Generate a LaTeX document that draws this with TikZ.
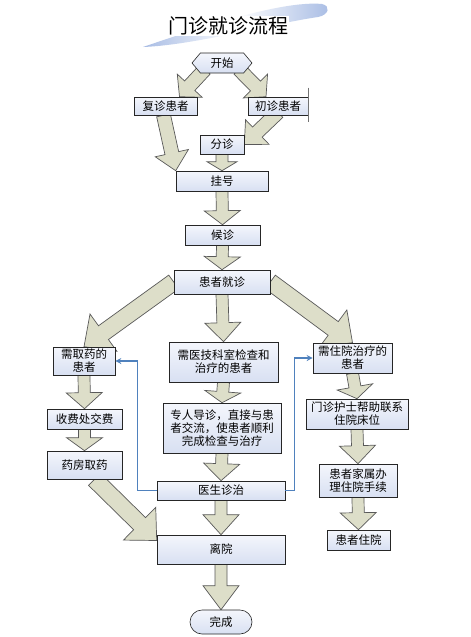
\documentclass[tikz,border=0pt]{standalone}
\usepackage{fontspec}
\newfontfamily\cjk{Noto Sans CJK SC}
\usetikzlibrary{calc,shapes.symbols,backgrounds,arrows.meta}
\definecolor{boxtop}{RGB}{244,246,252}
\definecolor{boxbot}{RGB}{216,224,242}
\definecolor{arrowfill}{RGB}{221,222,201}
\definecolor{linkblue}{RGB}{79,129,189}
\definecolor{swoosh}{RGB}{168,188,228}
\tikzstyle{box}=[draw=black!85, line width=0.6pt, top color=boxtop, bottom color=boxbot, font=\cjk\fontsize{11.5}{13}\selectfont, inner sep=0pt, align=center]
\tikzstyle{fatarrow}=[draw=black!65, line width=0.7pt, fill=arrowfill, line join=miter]
\tikzstyle{link}=[draw=linkblue, line width=1.4pt, -{Stealth[length=6pt,width=6pt]}]

% sizes of the fat arrows
\def\shaftw{6pt}\def\headw{18pt}\def\headlen{16pt}
\tikzset{
  arrow shaft/.code={\def\shaftw{#1}},
  arrow head/.code={\def\headw{#1}},
  arrow tiplen/.code={\def\headlen{#1}},
  wide arrow/.code={\def\shaftw{8.5pt}\def\headw{23pt}\def\headlen{24pt}}
}

\newcommand\bigarrow[3][]{%
  \begin{pgfonlayer}{background}
  \begin{scope}[#1]
    \coordinate (ba) at (#2);
    \coordinate (bb) at (#3);
    \coordinate (bh) at ($(bb)!\headlen!(ba)$);
    \filldraw[fatarrow] ($(ba)!\shaftw!90:(bb)$) -- ($(bh)!\shaftw!90:(bb)$)
      -- ($(bh)!\headw!90:(bb)$) -- (bb) -- ($(bh)!\headw!-90:(bb)$)
      -- ($(bh)!\shaftw!-90:(bb)$) -- ($(ba)!\shaftw!-90:(bb)$) -- cycle;
  \end{scope}
  \end{pgfonlayer}}

\begin{document}
\begin{tikzpicture}[x=1pt,y=-1pt]
\begin{pgfonlayer}{background}
\fill[white] (0,0) rectangle (471,637);
\end{pgfonlayer}
\useasboundingbox (0,0) rectangle (471,637);

% title
\shade[left color=swoosh, right color=swoosh, middle color=white]
  (143,47) .. controls (190,31) and (280,0) .. (322,4)
  .. controls (331,6) and (329,15) .. (318,17)
  .. controls (270,24) and (195,45) .. (143,47) -- cycle;
\node[fill=white, inner sep=1pt, font=\cjk\fontsize{20}{24}\selectfont] (title) at (228,26) {门诊就诊流程};

% top part
\node[box, signal, signal to=west and east, signal pointer angle=100, minimum width=60pt, minimum height=20pt] (ks) at (222,63) {开始};
\node[box, minimum width=63pt, minimum height=18pt] (fz) at (165.5,106) {复诊患者};
\node[box, minimum width=60pt, minimum height=18pt] (cz) at (278,106) {初诊患者};
\draw[line width=1.2pt, black!55] ([yshift=9pt]cz.north east) -- ([yshift=-7pt]cz.south east);
\node[box, minimum width=44pt, minimum height=19pt] (fen) at (222,144.5) {分诊};
\node[box, minimum width=92pt, minimum height=20pt] (gh) at (222,181) {挂号};
\node[box, minimum width=75pt, minimum height=20pt] (hz) at (222.5,235) {候诊};
\node[box, minimum width=96pt, minimum height=24pt] (jz) at (222,282) {患者就诊};

% three branches
\node[box, minimum width=62pt, minimum height=28pt] (qy) at (84,361) {需取药的\\患者};
\node[box, minimum width=75pt, minimum height=20pt] (sf) at (84.5,419) {收费处交费};
\node[box, minimum width=75pt, minimum height=28pt] (yf) at (84.5,465) {药房取药};

\node[box, minimum width=109pt, minimum height=40pt] (yj) at (223.5,362) {需医技科室检查和\\治疗的患者};
\node[box, minimum width=118pt, minimum height=50pt] (zr) at (222,428) {专人导诊，直接与患\\者交流，使患者顺利\\完成检查与治疗};
\node[box, minimum width=128pt, minimum height=19pt] (ys) at (221,490.5) {医生诊治};

\node[box, minimum width=79pt, minimum height=30pt] (zy) at (352.5,358) {需住院治疗的\\患者};
\node[box, minimum width=102pt, minimum height=30pt] (hs) at (357,414) {门诊护士帮助联系\\住院床位};
\node[box, minimum width=78pt, minimum height=33pt] (js) at (358,480.5) {患者家属办\\理住院手续};
\node[box, minimum width=63pt, minimum height=20pt] (zyy) at (358.5,540) {患者住院};

% end
\node[box, minimum width=128pt, minimum height=29pt] (ly) at (221,549.5) {离院};
\node[box, rounded corners=12pt, minimum width=62pt, minimum height=24pt] (wc) at (221,622) {完成};

% fat arrows
\bigarrow[arrow shaft=7pt, arrow head=17pt, arrow tiplen=15pt]{[xshift=-17pt,yshift=4pt]ks.south}{[xshift=14pt]fz.north}
\bigarrow[arrow shaft=7pt, arrow head=17pt, arrow tiplen=15pt]{[xshift=17pt,yshift=4pt]ks.south}{[xshift=-12pt]cz.north}
\bigarrow[arrow shaft=7pt, arrow head=17pt, arrow tiplen=18pt]{[xshift=-2pt]fz.south}{gh.north west}
\bigarrow[arrow shaft=7pt, arrow head=17pt, arrow tiplen=18pt]{[yshift=3pt]cz.south}{fen.east}
\bigarrow[arrow head=15pt, arrow tiplen=9pt]{fen.south}{gh.north}
\bigarrow[arrow tiplen=14pt]{gh.south}{hz.north}
\bigarrow[arrow tiplen=13pt]{hz.south}{jz.north}
\bigarrow[wide arrow]{jz.west}{qy.north}
\bigarrow[arrow tiplen=19pt]{jz.south}{yj.north}
\bigarrow[wide arrow]{jz.east}{zy.north}
\bigarrow[arrow tiplen=16pt]{qy.south}{sf.north}
\bigarrow[arrow tiplen=13pt]{sf.south}{yf.north}
\bigarrow[wide arrow]{[xshift=10pt]yf.south}{[yshift=9pt]ly.west}
\bigarrow[arrow tiplen=11pt]{yj.south}{zr.north}
\bigarrow[arrow tiplen=17pt]{zr.south}{ys.north}
\bigarrow[arrow tiplen=20pt]{ys.south}{ly.north}
\bigarrow[arrow tiplen=24pt]{ly.south}{wc.north}
\bigarrow[arrow tiplen=12pt]{zy.south}{hs.north}
\bigarrow[arrow tiplen=18pt]{hs.south}{js.north}
\bigarrow[arrow tiplen=17pt]{js.south}{zyy.north}

% blue links
\draw[link] (ys.west) -- ++(-19,0) |- (qy.east);
\draw[link] (ys.east) -- ++(9,0) |- (zy.west);
\end{tikzpicture}
\end{document}
